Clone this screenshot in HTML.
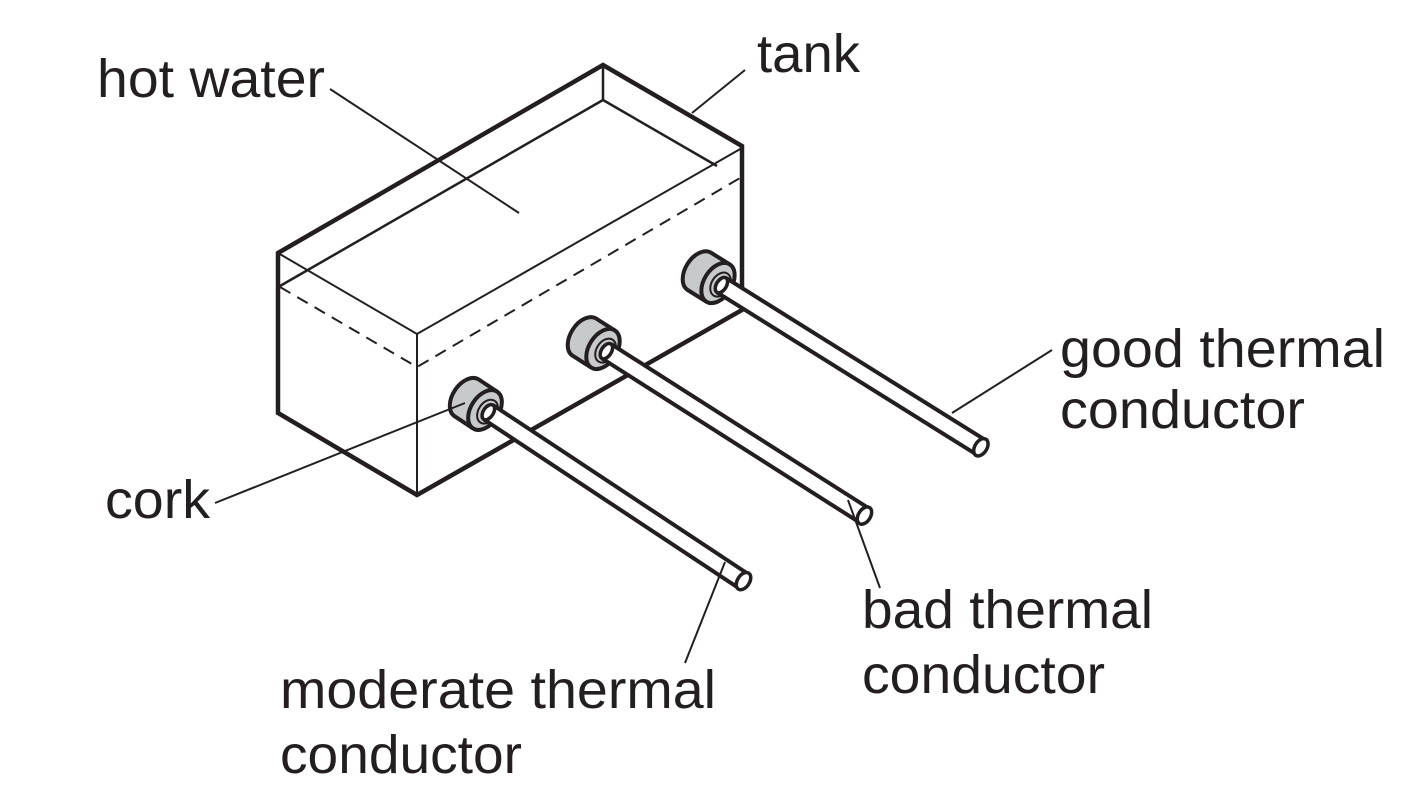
<!DOCTYPE html>
<html><head><meta charset="utf-8"><style>
html,body{margin:0;padding:0;background:#fff;}
svg{display:block;}
text{font-family:"Liberation Sans",Arial,sans-serif;font-size:54px;fill:#231f20;}
</style></head><body>
<svg width="1423" height="804" viewBox="0 0 1423 804" xmlns="http://www.w3.org/2000/svg">
<g stroke="#231f20" fill="none" stroke-linejoin="miter">
  <path d="M278,253 L603,65 L742,146 L742,310 L417,495 L278,413 Z" stroke-width="4.5" fill="#fff"/>
  <path d="M603,65 L603,100 M603,100 L280,286 M603,100 L717,166" stroke-width="2.5"/>
  <path d="M278,253 L417,334 L742,148 M417,334 L417,495" stroke-width="2"/>
  <path d="M280,287 L417,367 L740,178" stroke-width="2" stroke-dasharray="12,8"/>
  <path d="M330,89 L519,213" stroke-width="2"/>
  <path d="M745,70 L692,113" stroke-width="2"/>
</g>
<defs>
  <g id="rod">
    <ellipse cx="-22" cy="0" rx="14" ry="22" fill="#c8c9ca" stroke="#231f20" stroke-width="4"/>
    <rect x="-22" y="-22" width="22" height="44" fill="#c8c9ca"/>
    <path d="M-22,-22 L0,-22 M-22,22 L0,22" stroke="#231f20" stroke-width="4"/>
    <ellipse cx="0" cy="0" rx="14" ry="22" fill="#c8c9ca" stroke="#231f20" stroke-width="4"/>
    <ellipse cx="3" cy="0" rx="9" ry="13" fill="#c8c9ca" stroke="#231f20" stroke-width="2"/>
    <rect x="4" y="-8.5" width="306" height="17" fill="#fff" stroke="none"/>
    <path d="M4,-8.5 L310,-8.5 M4,8.5 L310,8.5" stroke="#231f20" stroke-width="4"/>
    <ellipse cx="4" cy="0" rx="5" ry="8.5" fill="#fff" stroke="#231f20" stroke-width="3.5"/>
    <ellipse cx="310" cy="0" rx="6" ry="9.5" fill="#fff" stroke="#231f20" stroke-width="3.5"/>
  </g>
</defs>
<use href="#rod" transform="translate(718,283) rotate(32)"/>
<use href="#rod" transform="translate(603,349) rotate(32.5)"/>
<use href="#rod" transform="translate(485,410) rotate(33.5)"/>
<g stroke="#231f20" stroke-width="2" fill="none">
  <path d="M215,503 L465,403"/>
  <path d="M1052,350 L952,413"/>
  <path d="M880,588 L848,500"/>
  <path d="M685,663 L725,562"/>
</g>
<text x="97" y="97" textLength="228" lengthAdjust="spacingAndGlyphs">hot water</text>
<text x="757" y="72" textLength="103" lengthAdjust="spacingAndGlyphs">tank</text>
<text x="1060" y="367" textLength="325" lengthAdjust="spacingAndGlyphs">good thermal</text>
<text x="1060" y="428" textLength="245" lengthAdjust="spacingAndGlyphs">conductor</text>
<text x="105" y="518" textLength="105" lengthAdjust="spacingAndGlyphs">cork</text>
<text x="862" y="628" textLength="291" lengthAdjust="spacingAndGlyphs">bad thermal</text>
<text x="862" y="693" textLength="243" lengthAdjust="spacingAndGlyphs">conductor</text>
<text x="280" y="708" textLength="436" lengthAdjust="spacingAndGlyphs">moderate thermal</text>
<text x="280" y="773" textLength="242" lengthAdjust="spacingAndGlyphs">conductor</text>
</svg>
</body></html>
